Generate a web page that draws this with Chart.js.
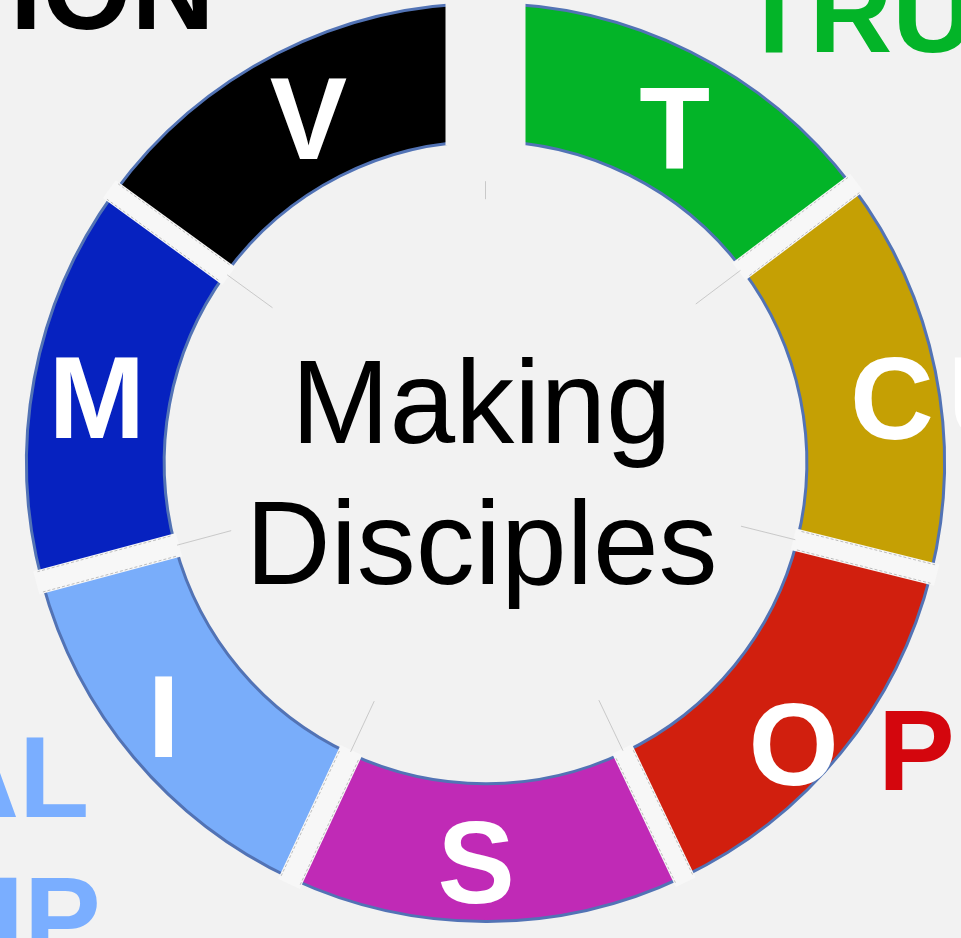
<!DOCTYPE html>
<html>
<head>
<meta charset="utf-8">
<script src="https://cdn.jsdelivr.net/npm/chart.js@4.4.0/dist/chart.umd.min.js"></script>
<style>
  html, body { margin: 0; padding: 0; background: #f2f2f2; }
  #wrap { position: relative; width: 961px; height: 938px; overflow: hidden; }
</style>
</head>
<body>
<div id="wrap"><canvas id="ring-chart"></canvas></div>
<script>
// ring segments, clockwise from the top
const letters = ['T', 'C', 'O', 'S', 'I', 'M', 'V'];
// size of each segment in degrees
const spans = [53, 51, 50.5, 50.5, 50, 51, 54];
const colors = ['#03b428', '#c5a004', '#d11f0e', '#c02ab6', '#79adfa', '#0622c0', '#000000'];
const centerLines = ['Making', 'Disciples'];
// words that run off the edge of the picture
const sideWords = ['ION', 'TRU', 'U', 'P', 'AL', 'IP'];
const sideColors = ['#000000', '#03b428', '#ffffff', '#d4060d', '#7aaeff', '#7aaeff'];

// layout only
const gapWidths = [80, 22, 22, 22, 24, 24, 22];   // gap before each segment
const letterNudge = [[15, 24], [24, 22], [6, 44], [-11, 18], [-23, 12], [-5, 15], [0, 12]];
const sidePos = [[10, 29], [739, 52], [948, 437], [878, 790], [-64, 817], [-8, 957]];
const FONT = '"Liberation Sans", Arial, sans-serif';

const ringDecor = {
  id: 'ringDecor',
  afterDatasetsDraw(chart) {
    const ctx = chart.ctx;
    const arcs = chart.getDatasetMeta(0).data;
    ctx.save();
    arcs.forEach((arc, i) => {
      const {x, y, startAngle, innerRadius, outerRadius} =
        arc.getProps(['x', 'y', 'startAngle', 'innerRadius', 'outerRadius'], true);
      const ux = Math.cos(startAngle), uy = Math.sin(startAngle);
      const nx = -uy, ny = ux;
      const w = gapWidths[i];
      const r0 = innerRadius - 4, r1 = outerRadius + 6;
      ctx.lineCap = 'butt';
      ctx.strokeStyle = w > 40 ? '#f2f2f2' : '#f7f7f7';
      ctx.lineWidth = w;
      ctx.beginPath();
      ctx.moveTo(x + ux * r0, y + uy * r0);
      ctx.lineTo(x + ux * r1, y + uy * r1);
      ctx.stroke();
      if (w < 40) {
        // ragged grey edges of the cut
        ctx.strokeStyle = 'rgba(140,140,140,0.55)';
        ctx.lineWidth = 1;
        [-1, 1].forEach(s => {
          const o = s * (w / 2 - 1.5);
          ctx.setLineDash([3, 2]);
          ctx.beginPath();
          ctx.moveTo(x + ux * (innerRadius + 2) + nx * o, y + uy * (innerRadius + 2) + ny * o);
          ctx.lineTo(x + ux * (outerRadius + 2) + nx * o, y + uy * (outerRadius + 2) + ny * o);
          ctx.stroke();
        });
        ctx.setLineDash([]);
        // faint guide line inside the ring
        ctx.strokeStyle = 'rgba(150,150,150,0.45)';
        ctx.beginPath();
        ctx.moveTo(x + ux * (innerRadius - 58), y + uy * (innerRadius - 58));
        ctx.lineTo(x + ux * (innerRadius - 2), y + uy * (innerRadius - 2));
        ctx.stroke();
      } else {
        ctx.strokeStyle = 'rgba(150,150,150,0.45)';
        ctx.lineWidth = 1;
        ctx.beginPath();
        ctx.moveTo(x + ux * (innerRadius - 58), y + uy * (innerRadius - 58));
        ctx.lineTo(x + ux * (innerRadius - 40), y + uy * (innerRadius - 40));
        ctx.stroke();
      }
    });
    ctx.restore();
  },
  afterDraw(chart) {
    const ctx = chart.ctx;
    const arcs = chart.getDatasetMeta(0).data;
    ctx.save();
    // big letters in the segments
    ctx.font = 'bold 116px ' + FONT;
    ctx.textAlign = 'center';
    ctx.textBaseline = 'middle';
    ctx.fillStyle = '#ffffff';
    arcs.forEach((arc, i) => {
      const {x, y, startAngle, endAngle, innerRadius, outerRadius} =
        arc.getProps(['x', 'y', 'startAngle', 'endAngle', 'innerRadius', 'outerRadius'], true);
      const mid = (startAngle + endAngle) / 2;
      const r = (innerRadius + outerRadius) / 2;
      ctx.fillText(letters[i], x + Math.cos(mid) * r + letterNudge[i][0], y + Math.sin(mid) * r + letterNudge[i][1]);
    });
    // centre title
    const c = arcs[0];
    ctx.font = '118px ' + FONT;
    ctx.fillStyle = '#000000';
    ctx.textBaseline = 'alphabetic';
    ctx.fillText(centerLines[0], c.x - 4, c.y - 20);
    ctx.fillText(centerLines[1], c.x - 4, c.y + 121);
    // cut-off words round the edge
    ctx.font = 'bold 115px ' + FONT;
    ctx.textAlign = 'left';
    sideWords.forEach((word, i) => {
      ctx.fillStyle = sideColors[i];
      ctx.fillText(word, sidePos[i][0], sidePos[i][1]);
    });
    ctx.restore();
  }
};

const drawRing = () => {
  const options = {
    type: 'doughnut',
    data: {
      labels: letters,
      datasets: [{
        data: spans,
        backgroundColor: colors,
        borderColor: '#5273b5',
        borderWidth: 3,
        hoverOffset: 0
      }]
    },
    options: {
      responsive: true,
      maintainAspectRatio: false,
      animation: false,
      events: [],
      cutout: '70%',
      rotation: 0,
      layout: { padding: { left: 24, right: 14, top: 2, bottom: 15 } },
      plugins: {
        legend: { display: false },
        tooltip: { enabled: false }
      }
    },
    plugins: [ringDecor]
  };
  const canvas = document.getElementById('ring-chart').getContext('2d');
  new Chart(canvas, options);
};

window.onload = () => {
  drawRing();
};
</script>
</body>
</html>
